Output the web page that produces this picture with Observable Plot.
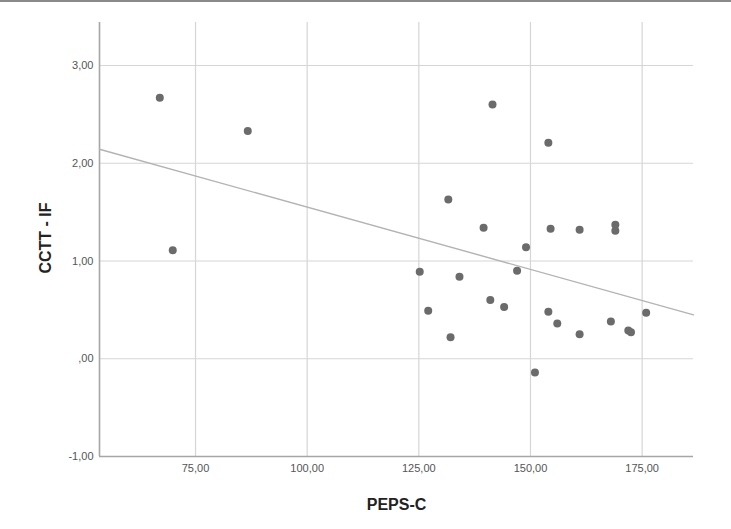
<!DOCTYPE html>
<html>
<head>
<meta charset="utf-8">
<script src="https://cdn.jsdelivr.net/npm/d3@7"></script>
<script src="https://cdn.jsdelivr.net/npm/@observablehq/plot@0.6"></script>
<style>
  html, body { margin: 0; padding: 0; background: #fff; }
  #wrap { position: relative; width: 731px; height: 529px; }
  #topline { position: absolute; left: 0; top: 0; width: 731px; height: 2px; background: #8a8a8a; }
</style>
</head>
<body>
<div id="wrap"><div id="topline"></div></div>
<script>
// Data (PEPS-C vs CCTT - IF)
const pepsC = [67.0, 86.7, 69.9, 141.5, 154.0, 131.6, 139.5, 154.5, 161.0, 169.0, 169.0, 149.0,
  125.2, 134.1, 147.0, 127.1, 141.0, 144.1, 154.0, 156.0, 168.0, 171.9, 172.5, 175.9, 161.0, 132.1, 151.0];
const cctt = [2.67, 2.33, 1.11, 2.60, 2.21, 1.63, 1.34, 1.33, 1.32, 1.37, 1.31, 1.14,
  0.89, 0.84, 0.90, 0.49, 0.60, 0.53, 0.48, 0.36, 0.38, 0.29, 0.27, 0.47, 0.25, 0.22, -0.14];
const xTicks = [75, 100, 125, 150, 175];
const yTicks = [-1, 0, 1, 2, 3];
const xDomain = [53.5, 186.5];
const yDomain = [-1, 3.44];
const xLabel = "PEPS-C";
const yLabel = "CCTT - IF";

const data = pepsC.map((x, i) => ({x, y: cctt[i]}));

// least-squares fit line over the whole x axis (as SPSS draws it)
const mx = d3.mean(pepsC), my = d3.mean(cctt);
const slope = d3.sum(data, d => (d.x - mx) * (d.y - my)) / d3.sum(data, d => (d.x - mx) ** 2);
const intercept = my - slope * mx;
const fit = xDomain.map(x => ({x, y: intercept + slope * x}));

const fmt = d => {
  let s = d.toFixed(2).replace(".", ",");
  if (s.startsWith("0,")) s = s.slice(1);
  return s;
};

const chart = Plot.plot({
  width: 731,
  height: 529,
  marginLeft: 99,
  marginRight: 38,
  marginTop: 22,
  marginBottom: 73,
  style: {fontFamily: "'Liberation Sans', Arial, sans-serif", background: "#fff"},
  x: {domain: xDomain},
  y: {domain: yDomain},
  marks: [
    Plot.ruleX(xTicks, {stroke: "#d6d6d6", strokeWidth: 1.2}),
    Plot.ruleY(yTicks.filter(v => v !== -1), {stroke: "#d6d6d6", strokeWidth: 1.2}),
    Plot.ruleY([-1], {stroke: "#a6a6a6", strokeWidth: 1.6}),
    Plot.ruleX([xDomain[0]], {stroke: "#a6a6a6", strokeWidth: 1.6}),
    Plot.axisX({ticks: xTicks, tickFormat: fmt, tickSize: 0, tickPadding: 8, fontSize: 11, fill: "#555", label: null}),
    Plot.axisY({ticks: yTicks, tickFormat: fmt, tickSize: 0, tickPadding: 6, fontSize: 11, fill: "#555", label: null}),
    Plot.line(fit, {x: "x", y: "y", stroke: "#b3b3b3", strokeWidth: 1.4}),
    Plot.dot(data, {x: "x", y: "y", r: 4, fill: "#6b6b6b", stroke: "none"}),
    Plot.text([xLabel], {frameAnchor: "bottom", dy: 48, lineAnchor: "middle", textAnchor: "middle", fontSize: 16, fontWeight: "bold", fill: "#222", text: d => d}),
    Plot.text([yLabel], {frameAnchor: "left", dx: -54, dy: -1.5, rotate: -90, textAnchor: "middle", lineAnchor: "middle", fontSize: 16, fontWeight: "bold", fill: "#222", text: d => d})
  ]
});
document.getElementById("wrap").appendChild(chart);
</script>
</body>
</html>
